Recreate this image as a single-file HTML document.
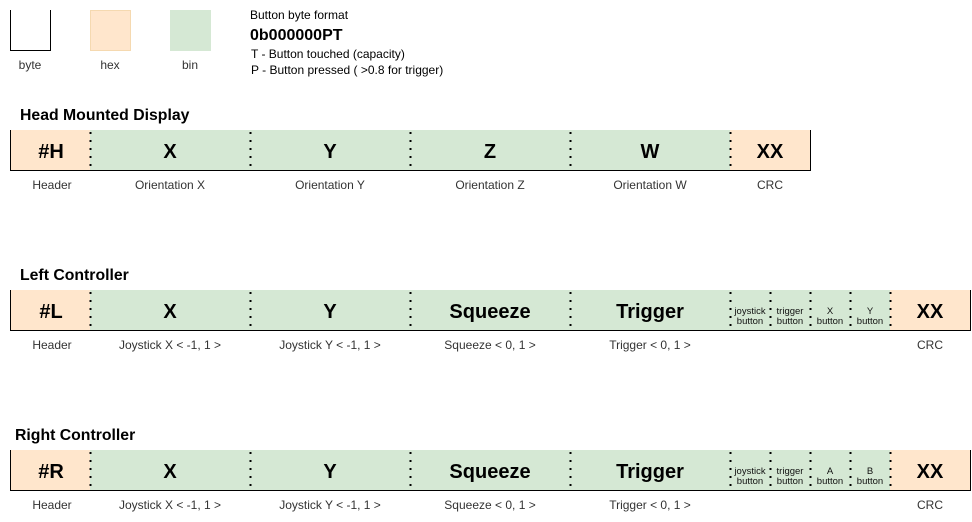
<!DOCTYPE html>
<html><head><meta charset="utf-8"><style>
html,body{margin:0;padding:0;background:#fff;}
svg{display:block;font-family:"Liberation Sans",Arial,sans-serif;}
</style></head><body>
<svg width="972" height="522" viewBox="0 0 972 522" xmlns="http://www.w3.org/2000/svg">
<path d="M10.5 10 V50.5 H50.5 V10" fill="none" stroke="#000" stroke-width="1"/>
<rect x="90.5" y="10.5" width="40" height="40" fill="#ffe6cc" stroke="#f5d9b0"/>
<rect x="170.5" y="10.5" width="40" height="40" fill="#d5e8d4" stroke="#d5e8d4"/>
<g font-size="12" fill="#333" text-anchor="middle">
<text x="30" y="69">byte</text><text x="110" y="69">hex</text><text x="190" y="69">bin</text>
</g>
<text x="250" y="19" font-size="12">Button byte format</text>
<text x="250" y="40" font-size="16" font-weight="bold">0b000000PT</text>
<text x="251" y="58" font-size="12">T - Button touched (capacity)</text>
<text x="251" y="74" font-size="12">P - Button pressed ( &gt;0.8 for trigger)</text>

<g font-size="15.8" font-weight="bold">
<text x="20" y="120">Head Mounted Display</text>
<text x="20" y="280">Left Controller</text>
<text x="15" y="440">Right Controller</text>
</g>

<g>
<rect x="10" y="130" width="80" height="40" fill="#ffe6cc"/>
<rect x="90" y="130" width="640" height="40" fill="#d5e8d4"/>
<rect x="730" y="130" width="80" height="40" fill="#ffe6cc"/>
<path d="M10.5 130 V170.5 H810.5 V130" fill="none" stroke="#000"/>
<g stroke="#000" stroke-width="2" stroke-dasharray="2 6">
<line x1="90.5" y1="132" x2="90.5" y2="170"/><line x1="250.5" y1="132" x2="250.5" y2="170"/>
<line x1="410.5" y1="132" x2="410.5" y2="170"/><line x1="570.5" y1="132" x2="570.5" y2="170"/>
<line x1="730.5" y1="132" x2="730.5" y2="170"/>
</g>
<g font-size="20" font-weight="bold" text-anchor="middle">
<text x="51" y="158">#H</text><text x="170" y="158">X</text><text x="330" y="158">Y</text>
<text x="490" y="158">Z</text><text x="650" y="158">W</text><text x="770" y="158">XX</text>
</g>
<g font-size="12" fill="#333" text-anchor="middle">
<text x="52" y="189">Header</text><text x="170" y="189">Orientation X</text><text x="330" y="189">Orientation Y</text>
<text x="490" y="189">Orientation Z</text><text x="650" y="189">Orientation W</text><text x="770" y="189">CRC</text>
</g>
</g>

<g transform="translate(0,160)">
<rect x="10" y="130" width="80" height="40" fill="#ffe6cc"/>
<rect x="90" y="130" width="800" height="40" fill="#d5e8d4"/>
<rect x="890" y="130" width="80" height="40" fill="#ffe6cc"/>
<path d="M10.5 130 V170.5 H970.5 V130" fill="none" stroke="#000"/>
<g stroke="#000" stroke-width="2" stroke-dasharray="2 6">
<line x1="90.5" y1="132" x2="90.5" y2="170"/><line x1="250.5" y1="132" x2="250.5" y2="170"/>
<line x1="410.5" y1="132" x2="410.5" y2="170"/><line x1="570.5" y1="132" x2="570.5" y2="170"/>
<line x1="730.5" y1="132" x2="730.5" y2="170"/><line x1="770.5" y1="132" x2="770.5" y2="170"/>
<line x1="810.5" y1="132" x2="810.5" y2="170"/><line x1="850.5" y1="132" x2="850.5" y2="170"/>
<line x1="890.5" y1="132" x2="890.5" y2="170"/>
</g>
<g font-size="20" font-weight="bold" text-anchor="middle">
<text x="51" y="158">#L</text><text x="170" y="158">X</text><text x="330" y="158">Y</text>
<text x="490" y="158">Squeeze</text><text x="650" y="158">Trigger</text><text x="930" y="158">XX</text>
</g>
<g font-size="9.5" text-anchor="middle" fill="#111">
<text x="750" y="154">joystick</text><text x="750" y="164">button</text>
<text x="790" y="154">trigger</text><text x="790" y="164">button</text>
<text x="830" y="154">X</text><text x="830" y="164">button</text>
<text x="870" y="154">Y</text><text x="870" y="164">button</text>
</g>
<g font-size="12" fill="#333" text-anchor="middle">
<text x="52" y="189">Header</text><text x="170" y="189">Joystick X &lt; -1, 1 &gt;</text><text x="330" y="189">Joystick Y &lt; -1, 1 &gt;</text>
<text x="490" y="189">Squeeze  &lt; 0, 1 &gt;</text><text x="650" y="189">Trigger &lt; 0, 1 &gt;</text><text x="930" y="189">CRC</text>
</g>
</g>

<g transform="translate(0,320)">
<rect x="10" y="130" width="80" height="40" fill="#ffe6cc"/>
<rect x="90" y="130" width="800" height="40" fill="#d5e8d4"/>
<rect x="890" y="130" width="80" height="40" fill="#ffe6cc"/>
<path d="M10.5 130 V170.5 H970.5 V130" fill="none" stroke="#000"/>
<g stroke="#000" stroke-width="2" stroke-dasharray="2 6">
<line x1="90.5" y1="132" x2="90.5" y2="170"/><line x1="250.5" y1="132" x2="250.5" y2="170"/>
<line x1="410.5" y1="132" x2="410.5" y2="170"/><line x1="570.5" y1="132" x2="570.5" y2="170"/>
<line x1="730.5" y1="132" x2="730.5" y2="170"/><line x1="770.5" y1="132" x2="770.5" y2="170"/>
<line x1="810.5" y1="132" x2="810.5" y2="170"/><line x1="850.5" y1="132" x2="850.5" y2="170"/>
<line x1="890.5" y1="132" x2="890.5" y2="170"/>
</g>
<g font-size="20" font-weight="bold" text-anchor="middle">
<text x="51" y="158">#R</text><text x="170" y="158">X</text><text x="330" y="158">Y</text>
<text x="490" y="158">Squeeze</text><text x="650" y="158">Trigger</text><text x="930" y="158">XX</text>
</g>
<g font-size="9.5" text-anchor="middle" fill="#111">
<text x="750" y="154">joystick</text><text x="750" y="164">button</text>
<text x="790" y="154">trigger</text><text x="790" y="164">button</text>
<text x="830" y="154">A</text><text x="830" y="164">button</text>
<text x="870" y="154">B</text><text x="870" y="164">button</text>
</g>
<g font-size="12" fill="#333" text-anchor="middle">
<text x="52" y="189">Header</text><text x="170" y="189">Joystick X &lt; -1, 1 &gt;</text><text x="330" y="189">Joystick Y &lt; -1, 1 &gt;</text>
<text x="490" y="189">Squeeze  &lt; 0, 1 &gt;</text><text x="650" y="189">Trigger &lt; 0, 1 &gt;</text><text x="930" y="189">CRC</text>
</g>
</g>
</svg>
</body></html>
